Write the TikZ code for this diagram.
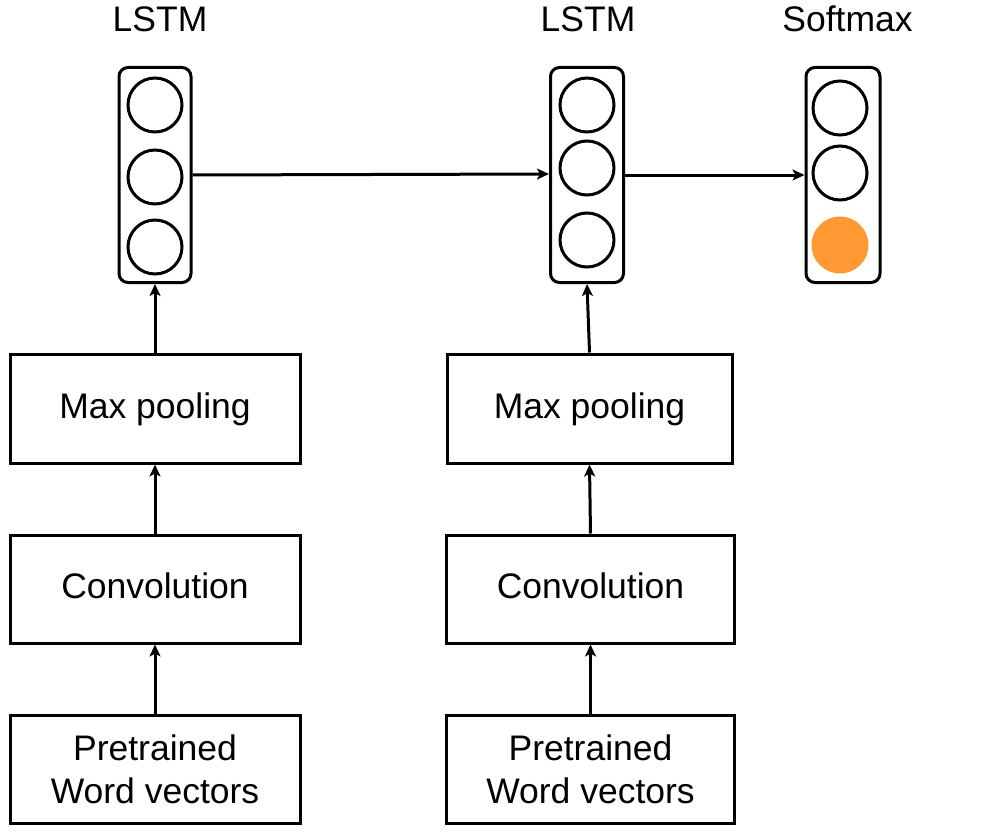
\documentclass[tikz,border=0pt]{standalone}
\usepackage{fontspec}
\setmainfont{Liberation Sans}
\usepackage{xcolor}
\usetikzlibrary{arrows.meta,positioning}
\definecolor{softorange}{RGB}{255,153,51}

\begin{document}
\begin{tikzpicture}[x=1pt,y=-1pt,
		labelfont/.style={font=\fontsize{35.5}{43}\selectfont},
		layerbox/.style={draw,line width=3pt,minimum width=288pt,minimum height=108pt,inner sep=0pt,align=center,labelfont},
		oneline/.style={text height=26pt,text depth=7pt},
		cellbox/.style={draw,line width=3pt,rounded corners=9pt,minimum width=72pt,minimum height=215pt,inner sep=0pt},
		unit/.style={draw,circle,line width=3pt,minimum size=54pt,inner sep=0pt},
		hot/.style={circle,fill=softorange,minimum size=57pt,inner sep=0pt},
		title/.style={labelfont,inner sep=0pt,anchor=base},
		flow/.style={-{Stealth[length=12pt,width=11pt,inset=3pt]},line width=3pt}]
	\useasboundingbox (0,0) rectangle (996,832);
	\node[layerbox,oneline,minimum width=290pt,minimum height=109pt] (maxL) at (155,408.5) {Max pooling};
	\node[layerbox,oneline,minimum width=290pt] (convL) at (155,589) {Convolution};
	\node[layerbox,minimum width=290pt] (wordL) at (155,769) {Pretrained\\Word vectors};
	\node[layerbox,oneline,minimum width=285pt,minimum height=109pt] (maxR) at (589.5,408.5) {Max pooling};
	\node[layerbox,oneline] (convR) at (590.5,589) {Convolution};
	\node[layerbox] (wordR) at (590.5,769) {Pretrained\\Word vectors};
	\node[cellbox] (lstmL) at (155,175) {};
	\node[cellbox,minimum width=73pt] (lstmR) at (587,175) {};
	\node[cellbox,minimum width=74pt] (soft) at (843,175) {};
	\node[unit] (l1) at (155,105) {};
	\node[unit] (l2) at (155,177) {};
	\node[unit] (l3) at (155,247) {};
	\node[unit] (r1) at (587,105) {};
	\node[unit] (r2) at (587,168) {};
	\node[unit] (r3) at (587,240) {};
	\node[unit] (s1) at (840,108) {};
	\node[unit] (s2) at (840,173) {};
	\node[hot] (s3) at (840,245) {};
	\node[title] (tL) at (160,32) {LSTM};
	\node[title] (tR) at (588,32) {LSTM};
	\node[title] (tS) at (847.5,32) {Softmax};
	\draw[flow] (wordL.north) -- (convL.south);
	\draw[flow] (convL.north) -- (maxL.south);
	\draw[flow] (maxL.north) -- (lstmL.south);
	\draw[flow] (wordR.north) -- (convR.south);
	\draw[flow] (convR.north) -- (maxR.south);
	\draw[flow] (maxR.north) -- (lstmR.south);
	\draw[flow] (lstmL.east) -- ([yshift=1pt]lstmR.west);
	\draw[flow] (lstmR.east) -- (soft.west);
\end{tikzpicture}
\end{document}
